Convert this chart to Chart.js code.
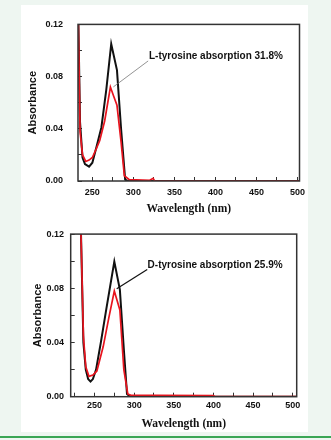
<html>
<head>
<script src="https://cdn.jsdelivr.net/npm/chart.js@4/dist/chart.umd.min.js"></script>
<style>
    body { margin: 0; width: 331px; height: 440px; background: #eef6f1; position: relative; overflow: hidden; }
    #panel { position: absolute; left: 21px; top: 5px; width: 287px; height: 427px; background: #fff; }
    #rule { position: absolute; left: 0; top: 436px; width: 331px; height: 2px; background: #3aa655; }
    .box { position: absolute; left: 0; width: 331px; }
</style>
</head>
<body>
<div id="panel"></div>
<div class="box" style="top:0;height:218px"><canvas id="topChart"></canvas></div>
<div class="box" style="top:218px;height:216px"><canvas id="bottomChart"></canvas></div>
<div id="rule"></div>

<script>
    // L-tyrosine (top)
    const lWaveBlack = [228, 233, 235, 238, 241, 246, 250, 255, 261, 267, 273, 280, 285, 290, 293, 503];
    const lAbsBlack = [0.3, 0.12, 0.045, 0.018, 0.013, 0.011, 0.014, 0.026, 0.041, 0.07, 0.105, 0.085, 0.04, 0.001, 0, 0];
    const lWaveRed = [228, 233, 235, 238, 242, 246, 250, 255, 259, 265, 272, 276, 280, 285, 289, 295, 320, 324, 326, 503];
    const lAbsRed = [0.3, 0.12, 0.038, 0.02, 0.015, 0.016, 0.018, 0.025, 0.031, 0.046, 0.072, 0.065, 0.058, 0.03, 0.004, 0.001, 0.0005, 0.002, 0, 0];

    // D-tyrosine (bottom)
    const dWaveBlack = [225, 233, 236, 239, 242, 245, 248, 252, 258, 265, 275, 282, 287, 291, 295, 505];
    const dAbsBlack = [0.25, 0.12, 0.04, 0.02, 0.013, 0.0112, 0.013, 0.02, 0.04, 0.065, 0.0998, 0.079, 0.035, 0.002, 0, 0];
    const dWaveRed = [225, 233, 236, 239, 243, 248, 253, 261, 268, 275, 282, 287, 292, 296, 330, 400, 402, 505];
    const dAbsRed = [0.25, 0.12, 0.045, 0.022, 0.015, 0.016, 0.019, 0.037, 0.058, 0.078, 0.064, 0.02, 0.002, 0.001, 0.001, 0.0008, 0, 0];

    const xTicks = [225, 250, 275, 300, 325, 350, 375, 400, 425, 450, 475, 500];
    const xLabels = ['', '250', '', '300', '', '350', '', '400', '', '450', '', '500'];
    const yTicks = [0, 0.02, 0.04, 0.06, 0.08, 0.10, 0.12];
    const yLabels = ['0.00', '', '0.04', '', '0.08', '', '0.12'];

    const pts = (xs, ys) => xs.map((x, i) => ({ x: x, y: ys[i] }));

    // box round the plot area
    const framePlugin = {
        id: 'frame',
        afterDatasetsDraw(chart) {
            const { ctx, chartArea: a } = chart;
            ctx.save();
            ctx.strokeStyle = '#333';
            ctx.lineWidth = 1.5;
            ctx.strokeRect(a.left, a.top, a.right - a.left, a.bottom - a.top);
            ctx.restore();
        }
    };

    // label with leader line
    const notePlugin = {
        id: 'note',
        afterDatasetsDraw(chart, args, o) {
            const { ctx, scales: { x, y } } = chart;
            ctx.save();
            ctx.strokeStyle = o.lineColor;
            ctx.lineWidth = o.lineWidth;
            ctx.beginPath();
            ctx.moveTo(x.getPixelForValue(o.fromX), y.getPixelForValue(o.fromY));
            ctx.lineTo(x.getPixelForValue(o.toX), y.getPixelForValue(o.toY));
            ctx.stroke();
            ctx.font = 'bold 10px "Liberation Sans", Arial, sans-serif';
            ctx.fillStyle = '#111';
            ctx.textBaseline = 'middle';
            ctx.fillText(o.text, x.getPixelForValue(o.textX), y.getPixelForValue(o.textY));
            ctx.restore();
        }
    };

    function makeChart(id, s) {
        return new Chart(document.getElementById(id), {
            type: 'line',
            data: {
                datasets: [
                    { data: pts(s.redX, s.redY), borderColor: '#e8141e', borderWidth: 1.7, pointRadius: 0, tension: 0 },
                    { data: pts(s.blackX, s.blackY), borderColor: '#111', borderWidth: 2, pointRadius: 0, tension: 0 }
                ]
            },
            options: {
                responsive: true,
                maintainAspectRatio: false,
                animation: false,
                layout: { padding: s.pad },
                plugins: {
                    legend: { display: false },
                    tooltip: { enabled: false },
                    note: s.note
                },
                scales: {
                    x: {
                        type: 'linear',
                        min: s.xMin,
                        max: s.xMax,
                        afterFit: sc => { sc.height = s.xHeight; },
                        afterBuildTicks: sc => { sc.ticks = xTicks.filter(v => v >= s.xMin).map(v => ({ value: v })); },
                        border: { display: false },
                        grid: { drawOnChartArea: false, tickLength: -4, color: '#333' },
                        ticks: {
                            autoSkip: false, maxRotation: 0, padding: s.xTickPad, color: '#111',
                            font: { family: '"Liberation Sans", Arial', size: 9, weight: 'bold' },
                            callback: v => xLabels[xTicks.indexOf(v)]
                        },
                        title: {
                            display: true, text: 'Wavelength (nm)', color: '#111',
                            font: { family: '"Liberation Serif", "Times New Roman", serif', size: 11.5, weight: 'bold' },
                            padding: { top: 0, bottom: s.xTitlePad }
                        }
                    },
                    y: {
                        min: 0,
                        max: 0.12,
                        afterFit: sc => { sc.width = s.yWidth; },
                        afterBuildTicks: sc => { sc.ticks = yTicks.map(v => ({ value: v })); },
                        border: { display: false },
                        grid: { drawOnChartArea: false, tickLength: -4, color: '#333' },
                        ticks: {
                            autoSkip: false, padding: s.yTickPad, color: '#111',
                            font: { family: '"Liberation Sans", Arial', size: 9, weight: 'bold' },
                            callback: (v, i) => yLabels[i]
                        },
                        title: {
                            display: true, text: 'Absorbance', color: '#111',
                            font: { family: '"Liberation Sans", Arial', size: 11, weight: 'bold' },
                            padding: 0
                        }
                    }
                }
            },
            plugins: [framePlugin, notePlugin]
        });
    }

    makeChart('topChart', {
        blackX: lWaveBlack, blackY: lAbsBlack, redX: lWaveRed, redY: lAbsRed,
        xMin: 232.5, xMax: 502.5,
        pad: { left: 26.4, right: 31.5, top: 10, bottom: 0 },
        yWidth: 51.6, xHeight: 37, xTickPad: 10.3, yTickPad: 19, xTitlePad: 2.1,
        note: { text: 'L-tyrosine absorption 31.8%', textX: 319, textY: 0.0955,
                fromX: 318, fromY: 0.092, toX: 275.6, toY: 0.0721, lineColor: '#777', lineWidth: 0.8 }
    });

    makeChart('bottomChart', {
        blackX: dWaveBlack, blackY: dAbsBlack, redX: dWaveRed, redY: dAbsRed,
        xMin: 220, xMax: 505,
        pad: { left: 31.4, right: 34.3, top: 10.5, bottom: 0 },
        yWidth: 39.3, xHeight: 37.3, xTickPad: 7.6, yTickPad: 10.7, xTitlePad: 3.1,
        note: { text: 'D-tyrosine absorption 25.9%', textX: 317, textY: 0.0967,
                fromX: 316.5, fromY: 0.0939, toX: 278, toY: 0.0796, lineColor: '#111', lineWidth: 1.2 }
    });
</script>
</body>
</html>
